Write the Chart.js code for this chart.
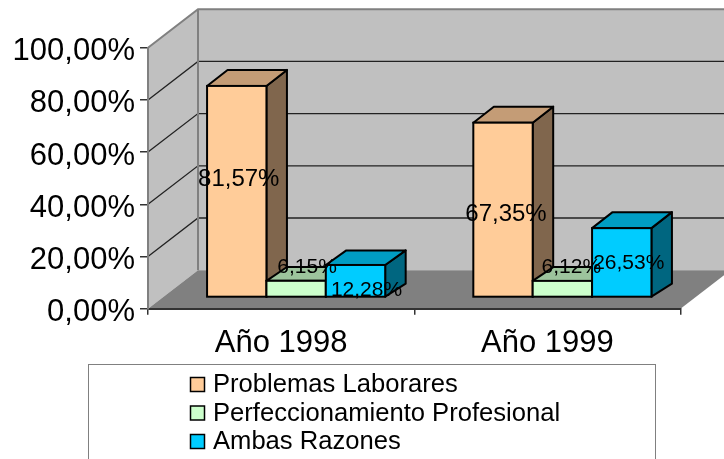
<!DOCTYPE html>
<html>
<head>
<meta charset="utf-8">
<style>html,body{margin:0;padding:0;background:#fff;overflow:hidden}canvas{display:block}</style>
<script src="https://cdn.jsdelivr.net/npm/chart.js@4/dist/chart.umd.min.js"></script>
</head>
<body>
<canvas id="c" width="724" height="459"></canvas>
<script>
const categories = ["Año 1998", "Año 1999"];
const seriesNames = ["Problemas Laborares", "Perfeccionamiento Profesional", "Ambas Razones"];
const problemasLaborares = [81.57, 67.35];
const perfeccionamiento = [6.15, 6.12];
const ambasRazones = [12.28, 26.53];
const frontColors = ["#FFCC99", "#CCFFCC", "#00CCFF"];
const topColors = ["#C49C76", "#9DC49D", "#009DC4"];
const sideColors = ["#80664D", "#668066", "#006680"];

const FONT = '"Liberation Sans", Arial, sans-serif';
const fmt = v => v.toFixed(2).replace(".", ",") + "%";

// 3D projection settings
const WALL_DX = 50, WALL_DY = -38.5;
const BAR_SHIFT_X = 15, BAR_SHIFT_Y = -12;
const BAR_DX = 20.5, BAR_BOTTOM_DY = -13, BAR_YSCALE = 0.99;
const topDepth = h => -13 - 3 * Math.min(1, h / 60);
// label fonts per dataset and nudges relative to each bar's centre
const labelSizes = [24, 21, 21];
const labelNudge = [
  [[2, -12], [3, 5]],
  [[11, -22], [9, -22]],
  [[11, 9], [7, 1]]
];

function projectBar(chart, el) {
  const base = chart.scales.y.getPixelForValue(0);
  const yShift = v => base + BAR_SHIFT_Y + (v - base) * BAR_YSCALE;
  return {
    l: el.x - el.width / 2 + BAR_SHIFT_X,
    r: el.x + el.width / 2 + BAR_SHIFT_X,
    t: yShift(el.y),
    b: yShift(base)
  };
}

function drawDepthFaces(chart, meta, i) {
  const ctx = chart.ctx;
  meta.data.forEach(el => {
    const p = projectBar(chart, el);
    const dyTop = topDepth(p.b - p.t);
    ctx.save();
    ctx.strokeStyle = "#000";
    ctx.lineWidth = 2;
    ctx.lineJoin = "round";
    // side face
    ctx.fillStyle = sideColors[i];
    ctx.beginPath();
    ctx.moveTo(p.r, p.t);
    ctx.lineTo(p.r + BAR_DX, p.t + dyTop);
    ctx.lineTo(p.r + BAR_DX, p.b + BAR_BOTTOM_DY);
    ctx.lineTo(p.r, p.b);
    ctx.closePath();
    ctx.fill();
    ctx.stroke();
    // top face
    ctx.fillStyle = topColors[i];
    ctx.beginPath();
    ctx.moveTo(p.l, p.t);
    ctx.lineTo(p.l + BAR_DX, p.t + dyTop);
    ctx.lineTo(p.r + BAR_DX, p.t + dyTop);
    ctx.lineTo(p.r, p.t);
    ctx.closePath();
    ctx.fill();
    ctx.stroke();
    ctx.restore();
  });
}

const scene3d = {
  id: "scene3d",
  beforeDraw(chart) {
    const ctx = chart.ctx, a = chart.chartArea, ys = chart.scales.y;
    const y0 = ys.getPixelForValue(0), y100 = ys.getPixelForValue(100);
    ctx.save();
    ctx.fillStyle = "#fff";
    ctx.fillRect(0, 0, chart.width, chart.height);
    // walls
    ctx.fillStyle = "#C0C0C0";
    ctx.beginPath();
    ctx.moveTo(a.left, y100);
    ctx.lineTo(a.left + WALL_DX, y100 + WALL_DY);
    ctx.lineTo(a.right + WALL_DX, y100 + WALL_DY);
    ctx.lineTo(a.right + WALL_DX, y0 + WALL_DY);
    ctx.lineTo(a.left + WALL_DX, y0 + WALL_DY);
    ctx.lineTo(a.left, y0);
    ctx.closePath();
    ctx.fill();
    // floor
    ctx.fillStyle = "#808080";
    ctx.beginPath();
    ctx.moveTo(a.left, y0);
    ctx.lineTo(a.right, y0);
    ctx.lineTo(a.right + WALL_DX, y0 + WALL_DY);
    ctx.lineTo(a.left + WALL_DX, y0 + WALL_DY);
    ctx.closePath();
    ctx.fill();
    // gridlines on the side and back walls
    ys.ticks.forEach(t => {
      if (t.value === 0 || t.value === 100) return;
      const y = ys.getPixelForValue(t.value);
      ctx.strokeStyle = "#222";
      ctx.lineWidth = 1.3;
      ctx.beginPath();
      ctx.moveTo(a.left, y);
      ctx.lineTo(a.left + WALL_DX, y + WALL_DY);
      ctx.lineTo(a.right + WALL_DX, y + WALL_DY);
      ctx.stroke();
    });
    // wall frame
    ctx.strokeStyle = "#808080";
    ctx.lineWidth = 2;
    ctx.beginPath();
    ctx.moveTo(a.left, y100);
    ctx.lineTo(a.left + WALL_DX, y100 + WALL_DY);
    ctx.lineTo(a.right + WALL_DX, y100 + WALL_DY);
    ctx.moveTo(a.left + WALL_DX, y100 + WALL_DY);
    ctx.lineTo(a.left + WALL_DX, y0 + WALL_DY);
    ctx.stroke();
    ctx.restore();
  },
  // Paint series left to right (Chart.js would paint last series first), so
  // each block's depth faces are overlapped correctly by its right neighbour.
  beforeDatasetsDraw(chart) {
    const ctx = chart.ctx;
    const base = chart.scales.y.getPixelForValue(0);
    chart.data.datasets.forEach((ds, i) => {
      const meta = chart.getDatasetMeta(i);
      drawDepthFaces(chart, meta, i);
      ctx.save();
      ctx.translate(BAR_SHIFT_X, base + BAR_SHIFT_Y);
      ctx.scale(1, BAR_YSCALE);
      ctx.translate(0, -base);
      meta.controller.draw();
      ctx.restore();
      meta.data.forEach(el => {
        const p = projectBar(chart, el);
        ctx.save();
        ctx.strokeStyle = "#000";
        ctx.lineWidth = 2;
        ctx.strokeRect(p.l, p.t, p.r - p.l, p.b - p.t);
        ctx.restore();
      });
    });
    // value labels
    ctx.save();
    ctx.fillStyle = "#000";
    ctx.textAlign = "center";
    ctx.textBaseline = "middle";
    chart.data.datasets.forEach((ds, i) => {
      ctx.font = labelSizes[i] + "px " + FONT;
      chart.getDatasetMeta(i).data.forEach((el, j) => {
        const p = projectBar(chart, el);
        const n = labelNudge[i][j];
        ctx.fillText(fmt(ds.data[j]), (p.l + p.r) / 2 + n[0], (p.t + p.b) / 2 + n[1]);
      });
    });
    ctx.restore();
    return false;
  },
  afterDraw(chart) {
    const ctx = chart.ctx;
    ctx.save();
    ctx.fillStyle = "#fff";
    ctx.strokeStyle = "#808080";
    ctx.lineWidth = 1;
    ctx.fillRect(88.5, 364.5, 567, 110);
    ctx.strokeRect(88.5, 364.5, 567, 110);
    ctx.font = "25.6px " + FONT;
    ctx.textAlign = "left";
    ctx.textBaseline = "middle";
    chart.data.datasets.forEach((ds, i) => {
      const cy = 385 + i * 28.5;
      ctx.fillStyle = ds.backgroundColor;
      ctx.fillRect(190.5, cy - 7.5, 14, 14);
      ctx.strokeStyle = "#000";
      ctx.lineWidth = 1.5;
      ctx.strokeRect(190.5, cy - 7.5, 14, 14);
      ctx.fillStyle = "#000";
      ctx.fillText(ds.label, 213, cy);
    });
    ctx.restore();
  }
};

new Chart(document.getElementById("c"), {
  type: "bar",
  plugins: [scene3d],
  data: {
    labels: categories,
    datasets: [problemasLaborares, perfeccionamiento, ambasRazones].map((d, i) => ({
      label: seriesNames[i],
      data: d,
      backgroundColor: frontColors[i],
      borderWidth: 0,
      clip: false,
      categoryPercentage: 0.669,
      barPercentage: 1
    }))
  },
  options: {
    responsive: false,
    devicePixelRatio: 1,
    animation: false,
    layout: { padding: { top: 47.7, right: 43.5, left: 0, bottom: 0 } },
    plugins: { legend: { display: false }, tooltip: { enabled: false }, title: { display: false } },
    scales: {
      x: {
        afterFit: s => { s.height = 150.3; },
        grid: { drawOnChartArea: false, drawTicks: true, tickLength: 6, color: "#333", lineWidth: 1.5 },
        border: { color: "#333", width: 2 },
        ticks: { color: "#000", font: { family: FONT, size: 31 }, padding: 10, maxRotation: 0 }
      },
      y: {
        min: 0, max: 100,
        afterFit: s => { s.width = 148; },
        grid: { drawOnChartArea: false, drawTicks: true, tickLength: 8, color: "#333", lineWidth: 1.5 },
        border: { color: "#808080", width: 2 },
        ticks: { stepSize: 20, color: "#000", font: { family: FONT, size: 31 }, padding: 5, labelOffset: 4, callback: v => fmt(v) }
      }
    }
  }
});
</script>
</body>
</html>
